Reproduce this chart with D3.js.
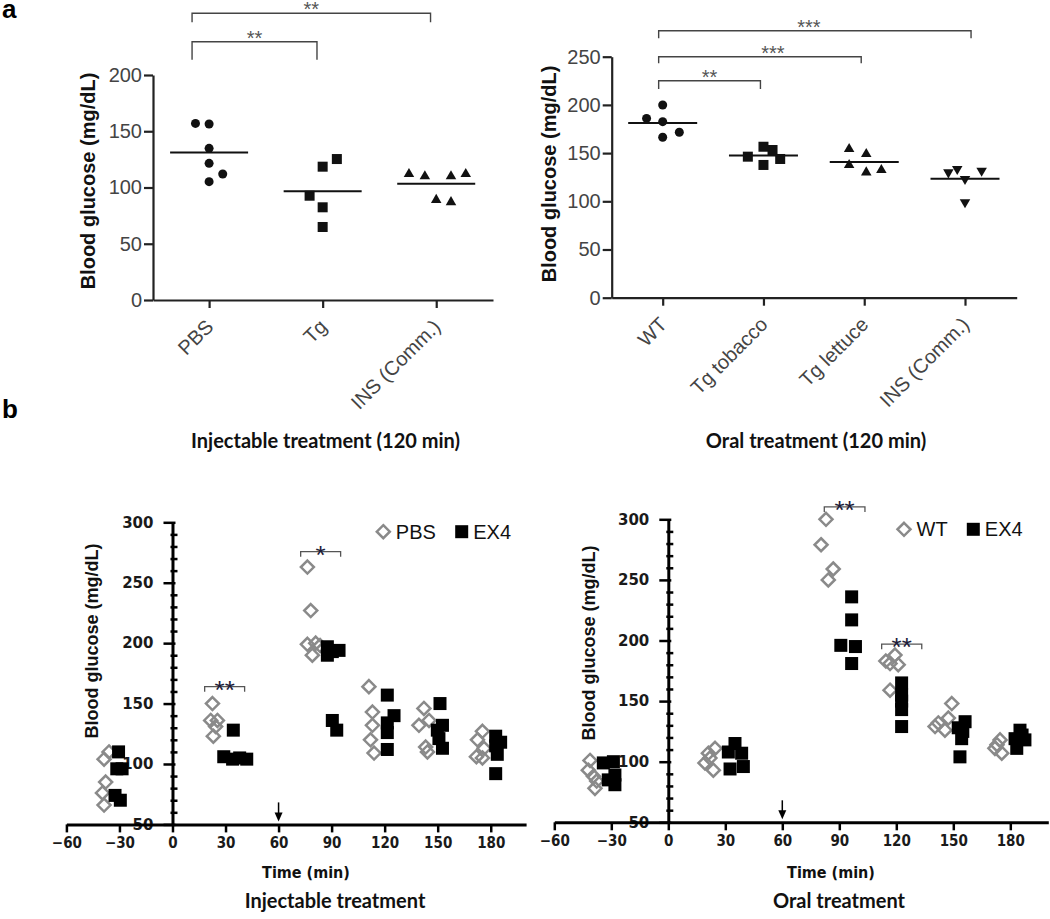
<!DOCTYPE html>
<html><head><meta charset="utf-8">
<script src="https://cdn.jsdelivr.net/npm/d3@7"></script>
<style>body{margin:0;background:#fff}svg{display:block}</style>
</head><body>
<svg id="chart" width="1050" height="919"></svg>
<script>
// ---------- DATA ----------
// Panel a, left: injectable treatment (120 min). [category index + jitter, value]
const injCats = ["PBS", "Tg", "INS (Comm.)"];
const injYTicks = [0, 50, 100, 150, 200];
const injPBS = [[-0.12,157],[0,156.4],[0,134.8],[0,121.5],[0.12,112],[0,105.2]];
const injTg  = [[1.125,125.3],[1,118.5],[0.885,92.7],[1,82.4],[1,64.9]];
const injINS = [[1.76,112],[1.9,110],[2.13,110],[2.26,112],[2.0,89],[2.13,87]];

// Panel a, right: oral treatment (120 min)
const oralCats = ["WT", "Tg tobacco", "Tg lettuce", "INS (Comm.)"];
const oralYTicks = [0, 50, 100, 150, 200, 250];
const oralWT  = [[-0.16,186],[0,199.9],[0,182.6],[0.165,171.6],[0,166.4]];
const oralTob = [[0.845,146.3],[1.0,156.6],[1.09,153.2],[1.166,143.9],[1.0,137.7]];
const oralLet = [[1.85,154.2],[2.02,149],[1.85,137.7],[2.02,130],[2.17,132.5]];
const oralINS = [[2.835,130],[2.923,133.5],[3,123.1],[3.165,131.7],[3,99]];

// Panel b: time courses. [time (min), blood glucose]
const timeTicks = [-60,-30,0,30,60,90,120,150,180];
const bgTicks = [50,100,150,200,250,300];
const injTimePBS = [
 [-35.9,110],[-38.7,104],[-37.8,85],[-39.6,76],[-38.7,66],
 [22.6,150],[21.6,136],[25.4,136],[24.4,131],[23.1,123],
 [76.3,263],[78.2,227],[76.3,199],[81.0,200],[83.5,198],[79.1,190],
 [111.1,164],[113.1,143],[113.1,132],[112.0,120],[114.0,109],
 [142.2,146],[139.4,132],[145.1,136],[143.2,114],[144.2,110],
 [175.3,127],[172.5,120],[176.2,113],[171.9,106],[175.3,105]
];
const injTimeEX4 = [
 [-30.5,110],[-31.5,96],[-28.5,96],[-32.5,74],[-29.5,70],
 [34.4,128],[29,106],[34,104],[38,105],[42,104],
 [87.6,197],[90.4,193],[94.2,194],[87.6,190],[90.4,136],[92.9,128],
 [121.5,157],[125.3,140],[121.5,134],[121.5,126],[121.5,112],
 [151.3,150],[152.7,132],[149.8,128],[150.7,121],[152.7,113],
 [182.8,123],[185.6,118],[182.8,115],[183.7,108],[182.8,92]
];
const oralTimeWT = [
 [-41.2,101],[-42.1,93],[-39.4,88],[-37.7,84],[-38.6,78],
 [21.1,107],[24.6,111],[19.3,99],[23.7,93],[21.9,103],
 [83,300],[80.4,279],[86.8,259],[84.2,250],
 [116.7,181],[119.3,188],[121,180],[114.5,183],[116.7,159],
 [149.2,148],[142.1,132],[147.4,136],[140.4,129],[145.6,126],
 [174.6,118],[171.9,111],[175.5,107],[173,114]
];
const oralTimeEX4 = [
 [-34.2,99],[-28.9,100],[-28.1,89],[-31.6,85],[-28.1,81],
 [35.1,115],[31.6,108],[38.6,107],[32.5,94],[39.5,96],
 [96.5,236],[96.5,217],[90.8,196],[98.5,195],[96.5,181],
 [122.8,165],[122.8,155],[122.8,150],[122.8,143],[122.8,129],
 [156.2,133],[152.6,128],[154.4,119],[153.5,104],[155,125],
 [185.1,126],[182.5,119],[187.7,118],[183.4,111],[186.2,122]
];

// ---------- DRAWING ----------
const svg = d3.select("#chart");
const SANS = "'Liberation Sans', Arial, Helvetica, sans-serif";
const DEJA = "'DejaVu Sans', Verdana, sans-serif";
const LATO = "Lato, 'Open Sans', sans-serif";

function marker(sel, shape, size) {
  if (shape === "circle") return sel.append("circle").attr("r", size/2);
  if (shape === "square") return sel.append("rect").attr("x",-size/2).attr("y",-size/2).attr("width",size).attr("height",size);
  if (shape === "tri") return sel.append("path").attr("d", d3.symbol(d3.symbolTriangle, size*size*0.48)());
  if (shape === "tridown") return sel.append("path").attr("d", d3.symbol(d3.symbolTriangle, size*size*0.48)()).attr("transform","rotate(180)");
  if (shape === "diamond") { const r=size/2; return sel.append("path").attr("d",`M0,${-r}L${r},0L0,${r}L${-r},0Z`); }
}

function drawTop(cfg) {
  const g = svg.append("g");
  const x = d3.scaleLinear().domain(cfg.xDomain).range(cfg.xRange);
  const y = d3.scaleLinear().domain([0, cfg.yMax]).range(cfg.yRange);
  const ya = g.append("g").attr("transform", `translate(${cfg.xRange[0]},0)`)
    .call(d3.axisLeft(y).tickValues(cfg.yTicks).tickSize(9).tickSizeOuter(0).tickPadding(cfg.yPad));
  const xa = g.append("g").attr("transform", `translate(0,${cfg.yRange[0]})`)
    .call(d3.axisBottom(x).tickValues(d3.range(cfg.cats.length)).tickSize(8).tickSizeOuter(0)
      .tickFormat(i => cfg.cats[i]));
  [ya, xa].forEach(a => {
    a.select(".domain").attr("stroke","#222").attr("stroke-width",2.2);
    a.selectAll(".tick line").attr("stroke","#222").attr("stroke-width",2.2);
    a.selectAll(".tick text").attr("font-family",SANS).attr("font-size",20).attr("fill","#444");
  });
  xa.selectAll(".tick text").attr("x",0).attr("y",0).attr("dy",0)
    .attr("text-anchor","end").attr("transform","translate(5,28) rotate(-45)");
  cfg.series.forEach((s, i) => {
    const pts = g.append("g").selectAll("g").data(s.data).join("g")
      .attr("transform", d => `translate(${x(d[0])},${y(d[1])})`);
    pts.each(function(){ marker(d3.select(this), s.shape, s.size).attr("fill","#111"); });
    const m = d3.mean(s.data, d => d[1]);
    g.append("line").attr("x1", x(i) - cfg.meanHalf).attr("x2", x(i) + cfg.meanHalf)
      .attr("y1", y(m)).attr("y2", y(m)).attr("stroke","#111").attr("stroke-width",2);
  });
  cfg.brackets.forEach(b => {
    const x0 = x(b.from), x1 = x(b.to);
    g.append("path").attr("d",`M${x0},${b.y+b.drop}V${b.y}H${x1}V${b.y+b.drop}`)
      .attr("fill","none").attr("stroke","#444").attr("stroke-width",1.4);
    g.append("text").attr("x",(x0+x1)/2 + (b.dx||0)).attr("y",b.y+3).attr("text-anchor","middle")
      .attr("font-family",SANS).attr("font-size",20).attr("fill","#555").text(b.label);
  });
  g.append("text").attr("transform",`translate(${cfg.title[0]},${cfg.title[1]}) rotate(-90)`)
    .attr("text-anchor","middle").attr("dy","0.35em").attr("font-family",SANS).attr("font-weight","bold")
    .attr("font-size",20).attr("fill","#111").text("Blood glucose (mg/dL)");
  g.append("text").attr("x",cfg.sub[1]).attr("y",448).attr("text-anchor","middle")
    .attr("font-family",LATO).attr("font-weight","bold").attr("font-size",20).attr("fill","#111").text(cfg.sub[0]);
}

drawTop({
  cats: injCats, yMax: 200, yTicks: injYTicks, yPad: 2,
  xDomain: [-0.494, 2.5], xRange: [153, 493], yRange: [300, 75],
  series: [{data: injPBS, shape: "circle", size: 9}, {data: injTg, shape: "square", size: 10}, {data: injINS, shape: "tri", size: 10}],
  meanHalf: 39, title: [88, 181],
  brackets: [{from:-0.15, to:1.95, y:13.3, drop:9, label:"**"}, {from:-0.15, to:0.95, y:41.7, drop:18, label:"**"}],
  sub: ["Injectable treatment (120 min)", 325.5]
});
drawTop({
  cats: oralCats, yMax: 250, yTicks: oralYTicks, yPad: 2,
  xDomain: [-0.506, 3.513], xRange: [611.7, 1016.7], yRange: [297.7, 56.7],
  series: [{data: oralWT, shape: "circle", size: 9}, {data: oralTob, shape: "square", size: 10},
           {data: oralLet, shape: "tri", size: 10}, {data: oralINS, shape: "tridown", size: 10}],
  meanHalf: 34.5, title: [549, 174],
  brackets: [{from:-0.04, to:3.06, y:30.7, drop:7.6, label:"***", dx:-6}, {from:-0.04, to:1.97, y:56.7, drop:6.6, label:"***", dx:13},
             {from:-0.04, to:0.97, y:80.7, drop:8.3, label:"**"}],
  sub: ["Oral treatment (120 min)", 816]
});

function drawBottom(cfg) {
  const g = svg.append("g");
  const x = d3.scaleLinear().domain([-60, 200]).range(cfg.xRange);
  const y = d3.scaleLinear().domain([50, 300]).range(cfg.yRange);
  const x0 = x(0);
  const minor = d3.range(60, 300, 10).filter(v => v % 50 !== 0);
  const ym = g.append("g").attr("transform",`translate(${x0},0)`)
    .call(d3.axisLeft(y).tickValues(minor).tickSize(2).tickSizeOuter(0).tickFormat(""));
  ym.select(".domain").remove();
  ym.selectAll(".tick line").attr("x1",5).attr("stroke","#000").attr("stroke-width",2.5);
  const ya = g.append("g").attr("transform",`translate(${x0},0)`)
    .call(d3.axisLeft(y).tickValues(bgTicks).tickSize(9).tickSizeOuter(0).tickPadding(10));
  ya.select(".domain").attr("stroke","#000").attr("stroke-width",3);
  ya.selectAll(".tick line").attr("x1",3).attr("stroke","#000").attr("stroke-width",2.5);
  ya.selectAll(".tick text").attr("font-family",DEJA).attr("font-weight","bold").attr("font-size",15).attr("fill","#1a1a1a");
  const xa = g.append("g").attr("transform",`translate(0,${y(50)})`)
    .call(d3.axisBottom(x).tickValues(timeTicks).tickSize(8).tickSizeOuter(0).tickPadding(5));
  xa.select(".domain").attr("stroke","#000").attr("stroke-width",3);
  xa.selectAll(".tick line").attr("stroke","#000").attr("stroke-width",2.5);
  xa.selectAll(".tick text").attr("font-family",DEJA).attr("font-weight","bold").attr("font-size",15)
    .attr("fill","#1a1a1a").style("font-stretch","condensed");
  const ax = x(60), ab = y(50);
  g.append("line").attr("x1",ax).attr("x2",ax).attr("y1",ab-22).attr("y2",ab-10).attr("stroke","#000").attr("stroke-width",1.5);
  g.append("path").attr("d",`M${ax-4},${ab-12}L${ax+4},${ab-12}L${ax},${ab-3}Z`).attr("fill","#000");
  const open = g.append("g").selectAll("g").data(cfg.open).join("g")
    .attr("transform", d => `translate(${x(d[0])},${y(d[1])})`);
  open.each(function(){ marker(d3.select(this),"diamond",13).attr("fill","none").attr("stroke","#8a8a8a").attr("stroke-width",2.5); });
  const fill = g.append("g").selectAll("g").data(cfg.filled).join("g")
    .attr("transform", d => `translate(${x(d[0])},${y(d[1])})`);
  fill.each(function(){ marker(d3.select(this),"square",13).attr("fill","#000"); });
  cfg.brackets.forEach(b => {
    const bx0 = x(b.t0), bx1 = x(b.t1), by = y(b.v);
    g.append("path").attr("d",`M${bx0},${by+5}V${by}H${bx1}V${by+5}`).attr("fill","none").attr("stroke","#555").attr("stroke-width",1.3);
    g.append("text").attr("x",(bx0+bx1)/2).attr("y",by+12).attr("text-anchor","middle")
      .attr("font-family",SANS).attr("font-size",26).attr("fill","#1c1c3a").text(b.label);
  });
  const lg = g.append("g").attr("transform",`translate(${cfg.legend[0]},${cfg.legend[1]})`);
  marker(lg.append("g"),"diamond",13).attr("fill","none").attr("stroke","#8a8a8a").attr("stroke-width",2.5);
  lg.append("text").attr("x",12.5).attr("dy","0.35em").attr("font-family",SANS).attr("font-size",20).attr("fill","#111").text(cfg.names[0]);
  const l2 = lg.append("g").attr("transform",`translate(${cfg.legendGap},0)`);
  marker(l2,"square",13).attr("fill","#000");
  l2.append("text").attr("x",11.5).attr("dy","0.35em").attr("font-family",SANS).attr("font-size",20).attr("fill","#111").text(cfg.names[1]);
  g.append("text").attr("transform",`translate(${cfg.title[0]},${cfg.title[1]}) rotate(-90)`)
    .attr("text-anchor","middle").attr("dy","0.35em").attr("font-family",SANS).attr("font-weight","bold")
    .attr("font-size",18).attr("fill","#111").text("Blood glucose (mg/dL)");
  g.append("text").attr("x",cfg.timeX).attr("y",878).attr("text-anchor","middle").attr("font-family",DEJA)
    .attr("font-weight","bold").attr("font-size",16).style("font-stretch","condensed").attr("fill","#111").text("Time (min)");
  g.append("text").attr("x",cfg.sub[1]).attr("y",908).attr("text-anchor","middle").attr("font-family",LATO)
    .attr("font-weight","bold").attr("font-size",20).attr("fill","#111").text(cfg.sub[0]);
}

drawBottom({
  xRange: [66.4, 526.1], yRange: [824.4, 522.3],
  open: injTimePBS, filled: injTimeEX4, names: ["PBS","EX4"],
  legend: [383.3, 531.7], legendGap: 78.4,
  brackets: [{t0:18.2, t1:40.8, v:164, label:"**"}, {t0:72.5, t1:95.1, v:275.7, label:"*"}],
  title: [91.7, 641], timeX: 306, sub: ["Injectable treatment", 335]
});
drawBottom({
  xRange: [554.3, 1048.3], yRange: [822.3, 519.3],
  open: oralTimeWT, filled: oralTimeEX4, names: ["WT","EX4"],
  legend: [904, 529.3], legendGap: 69.3,
  brackets: [{t0:82.1, t1:103.5, v:310.2, label:"**"}, {t0:112.3, t1:133.4, v:197, label:"**"}],
  title: [588.7, 643], timeX: 831, sub: ["Oral treatment", 839]
});

svg.append("text").attr("x",2).attr("y",18).attr("font-family",SANS).attr("font-weight","bold").attr("font-size",26).attr("fill","#000").text("a");
svg.append("text").attr("x",2).attr("y",418).attr("font-family",SANS).attr("font-weight","bold").attr("font-size",26).attr("fill","#000").text("b");
</script>
</body></html>
